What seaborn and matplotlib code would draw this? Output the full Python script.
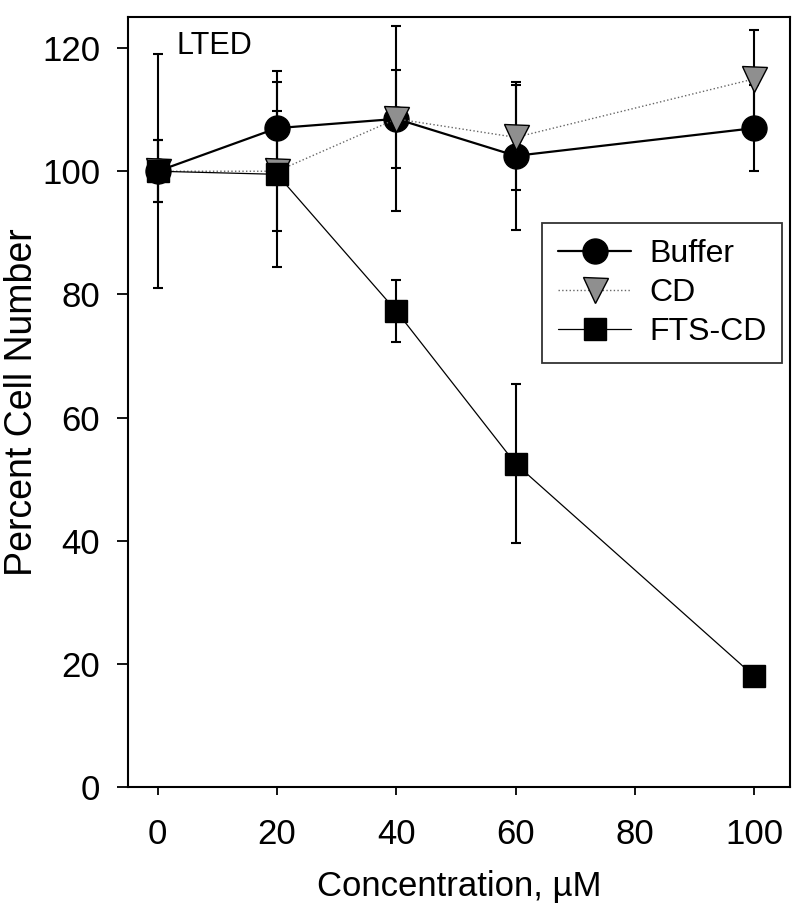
import numpy as np
import matplotlib
matplotlib.use("Agg")
import matplotlib.pyplot as plt
import pandas as pd
import seaborn as sns

# dane
conc = [0, 20, 40, 60, 100]
buffer_vals = [100, 107, 108.5, 102.5, 107]
buffer_err = [19, 9.3, 8, 12, 7]
cd_vals = [100, 100, 108.5, 105.5, 115]
cd_err = [5, 9.7, 15, 8.5, 8]
fts_vals = [100, 99.5, 77.3, 52.5, 18]
fts_err = [5, 15, 5, 12.9, 1]

sns.set_style("ticks")
plt.rcParams['font.family'] = ['Liberation Sans', 'DejaVu Sans']
plt.rcParams['text.color'] = 'black'
plt.rcParams['axes.labelcolor'] = 'black'
plt.rcParams['xtick.color'] = 'black'
plt.rcParams['ytick.color'] = 'black'
plt.rcParams['axes.edgecolor'] = 'black'

fig = plt.figure(figsize=(7.99, 9.07), dpi=100)
ax = fig.add_axes([0.160, 0.132, 0.829, 0.849])

series = [
    ("Buffer", buffer_vals, buffer_err, "o", "black", "black", "-", 1.6, 18),
    ("CD", cd_vals, cd_err, "v", "#8f8f8f", "#666666", ":", 1.0, 18),
    ("FTS-CD", fts_vals, fts_err, "s", "black", "black", "-", 0.9, 16.5),
]

for name, vals, err, mk, fc, lc, ls, lw, ms in series:
    df = pd.DataFrame({"x": conc, "y": vals})
    ax.errorbar(df["x"], df["y"], yerr=err, fmt="none", ecolor="black",
                elinewidth=1.5, capsize=3.8, capthick=1.5, zorder=2)
    sns.lineplot(data=df, x="x", y="y", ax=ax, color=lc, linestyle=ls,
                 linewidth=lw, marker=mk, markersize=ms, markerfacecolor=fc,
                 markeredgecolor="black", markeredgewidth=1.0,
                 label=name, zorder=3)

ax.set_xlim(-5, 106)
ax.set_ylim(0, 125)
ax.set_xticks([0, 20, 40, 60, 80, 100])
ax.set_yticks([0, 20, 40, 60, 80, 100, 120])
ax.tick_params(axis="both", labelsize=25, width=1.3, direction="out")
ax.tick_params(axis="y", length=8, pad=12)
ax.tick_params(axis="x", length=6, pad=16)
for s in ax.spines.values():
    s.set_linewidth(1.5)
    s.set_visible(True)

ax.set_xlabel("Concentration, \u00b5M", fontsize=25, labelpad=14)
ax.set_ylabel("Percent Cell Number", fontsize=27)
ax.yaxis.set_label_coords(-0.132, 0.5)

ax.text(0.074, 0.952, "LTED", transform=ax.transAxes, fontsize=22,
        va="baseline", ha="left")

leg = ax.legend(loc="upper right", bbox_to_anchor=(0.988, 0.7325),
                fontsize=23, frameon=True, fancybox=False, edgecolor="black",
                handlelength=2.3, borderpad=0.5, labelspacing=0.28,
                handletextpad=0.55, borderaxespad=0.0, markerscale=1.0)
leg.get_frame().set_linewidth(1.3)

fig.savefig("out.png", dpi=100)
